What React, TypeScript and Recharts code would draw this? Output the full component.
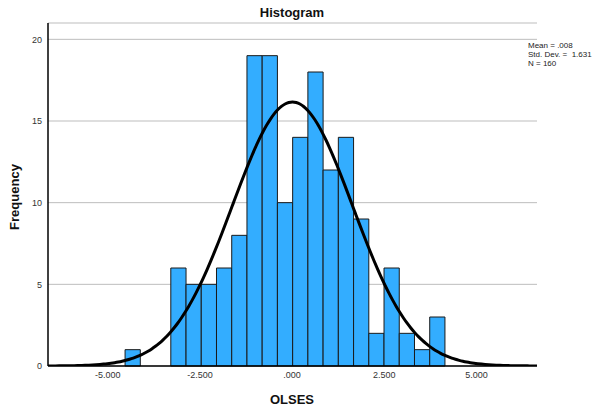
import React from 'react';
import { ComposedChart, Line, XAxis, YAxis, CartesianGrid, ReferenceArea } from 'recharts';

// Histogram bins (OLSES residuals)
const binStarts: number[] = [
  -4.53, -4.117, -3.704, -3.29, -2.877, -2.464, -2.051, -1.638, -1.225, -0.812,
  -0.399, 0.014, 0.427, 0.84, 1.253, 1.666, 2.079, 2.492, 2.905, 3.318, 3.731,
];
const binWidth = 0.413;
const counts: number[] = [1, 0, 0, 6, 5, 5, 6, 8, 19, 19, 10, 14, 18, 12, 14, 9, 2, 6, 2, 1, 3];

const xTicks: number[] = [-5, -2.5, 0, 2.5, 5];
const yTicks: number[] = [0, 5, 10, 15, 20];

const MEAN = 0.008;
const SD = 1.631;
const N = 160;

const xMin = -6.62;
const xMax = 6.64;

// Fitted normal curve from the displayed mean / sd / N (scaled by bin width)
const curve: { x: number; y: number }[] = [];
for (let i = 0; i <= 132; i++) {
  const x = xMin + (i * (xMax - xMin)) / 132;
  const z = (x - MEAN) / SD;
  const y = (N * binWidth * Math.exp(-0.5 * z * z)) / (SD * Math.sqrt(2 * Math.PI));
  curve.push({ x, y });
}

const fmtX = (v: number) => v.toFixed(3).replace(/^(-?)0\./, '$1.');

const FONT = '"Liberation Sans", Arial, sans-serif';

export default function App() {
  return (
    <div style={{ position: 'absolute', left: 0, top: 0, width: 610, height: 410, background: '#fff' }}>
      <ComposedChart
        width={610}
        height={410}
        data={curve}
        margin={{ top: 23, right: 73, left: 0, bottom: 0 }}
        style={{ fontFamily: FONT }}
      >
        <CartesianGrid horizontal vertical={false} stroke="#bdbdbd" strokeWidth={1} />
        <XAxis
          type="number"
          dataKey="x"
          domain={[xMin, xMax]}
          ticks={xTicks}
          tickFormatter={fmtX}
          allowDataOverflow
          height={44}
          tickLine={false}
          tickSize={0}
          tickMargin={6}
          axisLine={{ stroke: '#000', strokeWidth: 1.5 }}
          tick={{ fontSize: 9, fill: '#333', fontFamily: FONT }}
        />
        <YAxis
          type="number"
          domain={[0, 21]}
          ticks={yTicks}
          allowDataOverflow
          width={48}
          tickLine={false}
          tickSize={0}
          tickMargin={6}
          axisLine={{ stroke: '#000', strokeWidth: 1.5 }}
          tick={{ fontSize: 9, fill: '#333', fontFamily: FONT }}
        />
        {binStarts.map((s, i) =>
          counts[i] > 0 ? (
            <ReferenceArea
              key={i}
              x1={s}
              x2={s + binWidth}
              y1={0}
              y2={counts[i]}
              fill="#33adff"
              fillOpacity={1}
              stroke="#1a1a1a"
              strokeWidth={1}
              ifOverflow="visible"
            />
          ) : null
        )}
        <Line
          type="monotone"
          dataKey="y"
          stroke="#000"
          strokeWidth={3}
          dot={false}
          activeDot={false}
          isAnimationActive={false}
        />
        <text x={292} y={17} textAnchor="middle" fontSize={13} fontWeight="bold" fontFamily={FONT} fill="#111">
          Histogram
        </text>
        <text
          x={19}
          y={197}
          textAnchor="middle"
          fontSize={13}
          fontWeight="bold"
          fontFamily={FONT}
          fill="#111"
          transform="rotate(-90, 19, 197)"
        >
          Frequency
        </text>
        <text x={292} y={404} textAnchor="middle" fontSize={13} fontWeight="bold" fontFamily={FONT} fill="#111">
          OLSES
        </text>
        <text x={528} y={48} fontSize={8} fontFamily={FONT} fill="#222">Mean = .008</text>
        <text x={528} y={57} fontSize={8} fontFamily={FONT} fill="#222" style={{ whiteSpace: 'pre' }}>
          {'Std. Dev. =  1.631'}
        </text>
        <text x={528} y={66} fontSize={8} fontFamily={FONT} fill="#222">N = 160</text>
      </ComposedChart>
    </div>
  );
}
